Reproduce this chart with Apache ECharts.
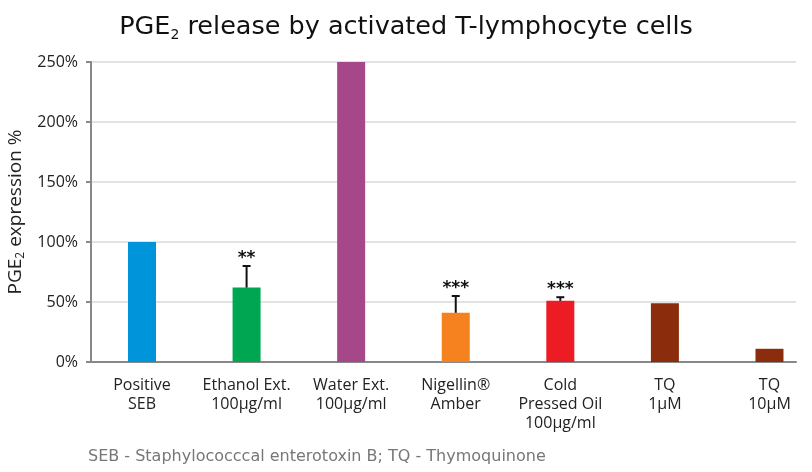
<!DOCTYPE html>
<html>
<head>
<meta charset="utf-8">
<script src="https://cdn.jsdelivr.net/npm/echarts@6/dist/echarts.min.js"></script>
<style>html,body{margin:0;padding:0;background:#fff}#c{width:812px;height:472px}</style>
</head>
<body>
<div id="c"></div>
<script>
const categories = ['Positive\nSEB', 'Ethanol Ext.\n100µg/ml', 'Water Ext.\n100µg/ml', 'Nigellin®\nAmber', 'Cold\nPressed Oil\n100µg/ml', 'TQ\n1µM', 'TQ\n10µM'];
const values = [100, 62, 250, 41, 51, 49, 11];
const errorHigh = [null, 80, null, 55, 54, null, null];
const significance = ['', '**', '', '***', '***', '', ''];
const yTicks = [0, 50, 100, 150, 200, 250];

const barColors = ['#0095DA', '#00A651', '#A6478A', '#F5821F', '#ED1C24', '#8B2C0D', '#8B2C0D'];
const FONT = 'Open Sans';
const WIDE = 'DejaVu Sans';
const BAR_W = 28;

const chart = echarts.init(document.getElementById('c'), null, {renderer: 'canvas'});

const positions = categories.map((c, i) => i);
const barData = values.map((v, i) => [positions[i], v]);
const errData = [];
errorHigh.forEach((h, i) => { if (h != null) errData.push([positions[i], values[i], h, significance[i]]); });

const option = {
  animation: false,
  backgroundColor: '#fff',
  title: {
    text: '{a|PGE}{s|2}{a| release by activated T-lymphocyte cells}',
    left: 'center',
    top: 8,
    textStyle: {
      fontWeight: 'normal',
      rich: {
        a: {fontFamily: WIDE, fontSize: 25.5, fontWeight: 'normal', color: '#111'},
        s: {fontFamily: WIDE, fontSize: 14, fontWeight: 'normal', color: '#111', padding: [15, 0, 0, 0]}
      }
    }
  },
  grid: {left: 91, right: 16, top: 62, bottom: 110, containLabel: false, outerBoundsMode: 'none'},
  xAxis: {
    type: 'value', min: -0.4877, max: 6.2536,
    axisLine: {show: true, onZero: false, lineStyle: {color: '#888', width: 2}},
    axisTick: {show: false},
    splitLine: {show: false},
    axisLabel: {
      customValues: positions,
      formatter: v => categories[Math.round(v)] || '',
      margin: 14, fontFamily: FONT, fontSize: 16, color: '#222', lineHeight: 19, align: 'center'
    }
  },
  yAxis: {
    type: 'value', min: 0, max: 250, interval: 50,
    axisLine: {show: true, onZero: false, lineStyle: {color: '#888', width: 2}},
    axisTick: {show: true, length: 5, lineStyle: {color: '#888', width: 2}},
    axisLabel: {formatter: v => v + '%', fontFamily: FONT, fontSize: 16, color: '#222', margin: 13},
    splitLine: {show: true, lineStyle: {color: '#e3e3e3', width: 2}},
    name: '{a|PGE}{s|2}{a| expression %}',
    nameLocation: 'middle',
    nameGap: 64,
    nameRotate: 90,
    nameTextStyle: {
      rich: {
        a: {fontFamily: FONT, fontSize: 19, color: '#222'},
        s: {fontFamily: FONT, fontSize: 12, color: '#222', padding: [10, 0, 0, 0]}
      }
    }
  },
  series: [
    {
      type: 'custom', z: 2,
      data: barData,
      renderItem: function (params, api) {
        const top = api.coord([api.value(0), api.value(1)]);
        const base = api.coord([api.value(0), 0]);
        return {
          type: 'rect',
          shape: {x: top[0] - BAR_W / 2, y: top[1], width: BAR_W, height: base[1] - top[1]},
          style: {fill: barColors[params.dataIndex]}
        };
      }
    },
    {
      type: 'custom', z: 3,
      data: errData,
      renderItem: function (params, api) {
        const x = api.value(0);
        const lo = api.coord([x, api.value(1)]);
        const hi = api.coord([x, api.value(2)]);
        const cap = 4;
        const style = {stroke: '#111', lineWidth: 2};
        return {
          type: 'group',
          children: [
            {type: 'line', shape: {x1: lo[0], y1: lo[1], x2: hi[0], y2: hi[1]}, style},
            {type: 'line', shape: {x1: hi[0] - cap, y1: hi[1], x2: hi[0] + cap, y2: hi[1]}, style},
            {type: 'text', style: {text: api.value(3), x: hi[0], y: hi[1] + 1, textAlign: 'center', textVerticalAlign: 'bottom', fontFamily: 'DejaVu Sans', fontSize: 17, fontWeight: 'bold', fill: '#111'}}
          ]
        };
      }
    }
  ],
  graphic: [
    {type: 'text', left: 88, top: 449, style: {text: 'SEB - Staphylococccal enterotoxin B; TQ - Thymoquinone', fontFamily: WIDE, fontSize: 16, fill: '#777'}}
  ]
};
chart.setOption(option);
</script>
</body>
</html>
